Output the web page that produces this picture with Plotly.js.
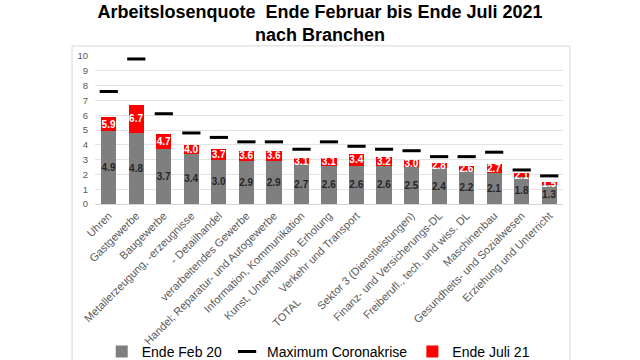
<!DOCTYPE html>
<html>
<head>
<meta charset="utf-8">
<script src="https://cdn.plot.ly/plotly-3.0.1.min.js"></script>
<style>html,body{margin:0;padding:0;background:#fff;}#chart{width:640px;height:360px;}</style>
</head>
<body>
<div id="chart"></div>
<script>
const categories = [
  "Uhren",
  "Gastgewerbe",
  "Baugewerbe",
  "Metallerzeugung, -erzeugnisse",
  "- Detailhandel",
  "verarbeitendes Gewerbe",
  "Handel; Reparatur- und Autogewerbe",
  "Information, Kommunikation",
  "Kunst, Unterhaltung, Erholung",
  "Verkehr und Transport",
  "TOTAL\u00a0\u00a0\u00a0\u00a0\u00a0\u00a0\u00a0\u00a0\u00a0\u00a0\u00a0\u00a0\u00a0\u00a0\u00a0\u00a0\u00a0\u00a0\u00a0\u00a0\u00a0\u00a0\u00a0\u00a0\u00a0\u00a0\u00a0\u00a0\u00a0\u00a0\u00a0\u00a0\u00a0\u00a0\u00a0\u00a0\u00a0\u00a0\u00a0\u00a0",
  "Sektor 3 (Dienstleistungen)",
  "Finanz- und Versicherungs-DL",
  "Freiberufl., tech. und wiss. DL",
  "Maschinenbau",
  "Gesundheits- und Sozialwesen",
  "Erziehung und Unterricht"
];
const endeFeb20 = [4.9, 4.8, 3.7, 3.4, 3.0, 2.9, 2.9, 2.7, 2.6, 2.6, 2.6, 2.5, 2.4, 2.2, 2.1, 1.8, 1.3];
const endeJuli21 = [5.9, 6.7, 4.7, 4.0, 3.7, 3.6, 3.6, 3.1, 3.1, 3.4, 3.2, 3.0, 2.8, 2.6, 2.7, 2.1, 1.5];
const maximumCorona = [7.6, 9.8, 6.1, 4.8, 4.5, 4.2, 4.2, 3.7, 4.2, 3.9, 3.7, 3.6, 3.2, 3.2, 3.5, 2.3, 1.9];
const yTicks = [0,1,2,3,4,5,6,7,8,9,10];

const increase = endeJuli21.map((v, i) => v - endeFeb20[i]);
const fmt = v => v.toFixed(1);

const labelFont = {family: "Liberation Sans, Arial, sans-serif", size: 10};

const traces = [
  {
    type: "bar",
    name: "Ende Feb 20",
    x: categories,
    y: endeFeb20,
    marker: {color: "#7f7f7f"},
    text: endeFeb20.map(fmt),
    textposition: "inside",
    insidetextanchor: "middle",
    textangle: 0,
    constraintext: "none",
    textfont: Object.assign({}, labelFont, {color: "#262626", weight: "bold"}),
    hoverinfo: "skip"
  },
  {
    type: "scatter",
    mode: "markers",
    name: "Maximum Coronakrise",
    x: categories,
    y: maximumCorona,
    marker: {symbol: "line-ew", size: 13, color: "#000000", line: {color: "#000000", width: 3}},
    hoverinfo: "skip"
  },
  {
    type: "bar",
    name: "Ende Juli 21",
    x: categories,
    y: increase,
    marker: {color: "#ff0000"},
    text: endeJuli21.map(fmt),
    textposition: "inside",
    insidetextanchor: "middle",
    textangle: 0,
    constraintext: "none",
    textfont: Object.assign({}, labelFont, {color: "#ffffff", weight: "bold"}),
    hoverinfo: "skip"
  }
];

const layout = {
  width: 640,
  height: 360,
  paper_bgcolor: "#ffffff",
  plot_bgcolor: "#ffffff",
  margin: {l: 95, r: 77, t: 56, b: 156, autoexpand: false},
  barmode: "stack",
  bargap: 0.45,
  title: {
    text: "Arbeitslosenquote\u00a0 Ende Februar bis Ende Juli 2021<br>nach Branchen",
    font: {family: "Liberation Sans, Arial, sans-serif", size: 18, color: "#000000", weight: "bold"},
    x: 0.5, xref: "container", xanchor: "center",
    y: 0.95, yref: "container", yanchor: "middle"
  },
  xaxis: {
    type: "category",
    range: [-0.5, categories.length - 0.5],
    tickangle: -45,
    tickfont: {family: "Liberation Sans, Arial, sans-serif", size: 11, color: "#595959"},
    showgrid: false,
    showline: true,
    linecolor: "#d9d9d9",
    linewidth: 1,
    ticks: "",
    automargin: false,
    fixedrange: true
  },
  yaxis: {
    range: [0, 10],
    tickvals: yTicks,
    ticktext: yTicks.map(String),
    tickfont: {family: "Liberation Sans, Arial, sans-serif", size: 9.5, color: "#595959"},
    ticklabelstandoff: 6,
    showgrid: true,
    gridcolor: "#e3e3e3",
    gridwidth: 1,
    zeroline: false,
    showline: false,
    ticks: "",
    automargin: false,
    fixedrange: true
  },
  showlegend: true,
  legend: {
    orientation: "h",
    traceorder: "normal",
    x: 0.477, xanchor: "center",
    y: -1.0, yanchor: "middle",
    font: {family: "Liberation Sans, Arial, sans-serif", size: 14, color: "#000000"},
    bgcolor: "rgba(0,0,0,0)",
    itemwidth: 30
  },
  shapes: [
    {
      type: "rect", xref: "paper", yref: "paper",
      x0: -0.049, x1: 1.015, y0: -1.3, y1: 1.068,
      line: {color: "#d9d9d9", width: 1},
      fillcolor: "rgba(0,0,0,0)",
      layer: "below"
    }
  ]
};

Plotly.newPlot("chart", traces, layout, {displayModeBar: false, staticPlot: true});
</script>
</body>
</html>
